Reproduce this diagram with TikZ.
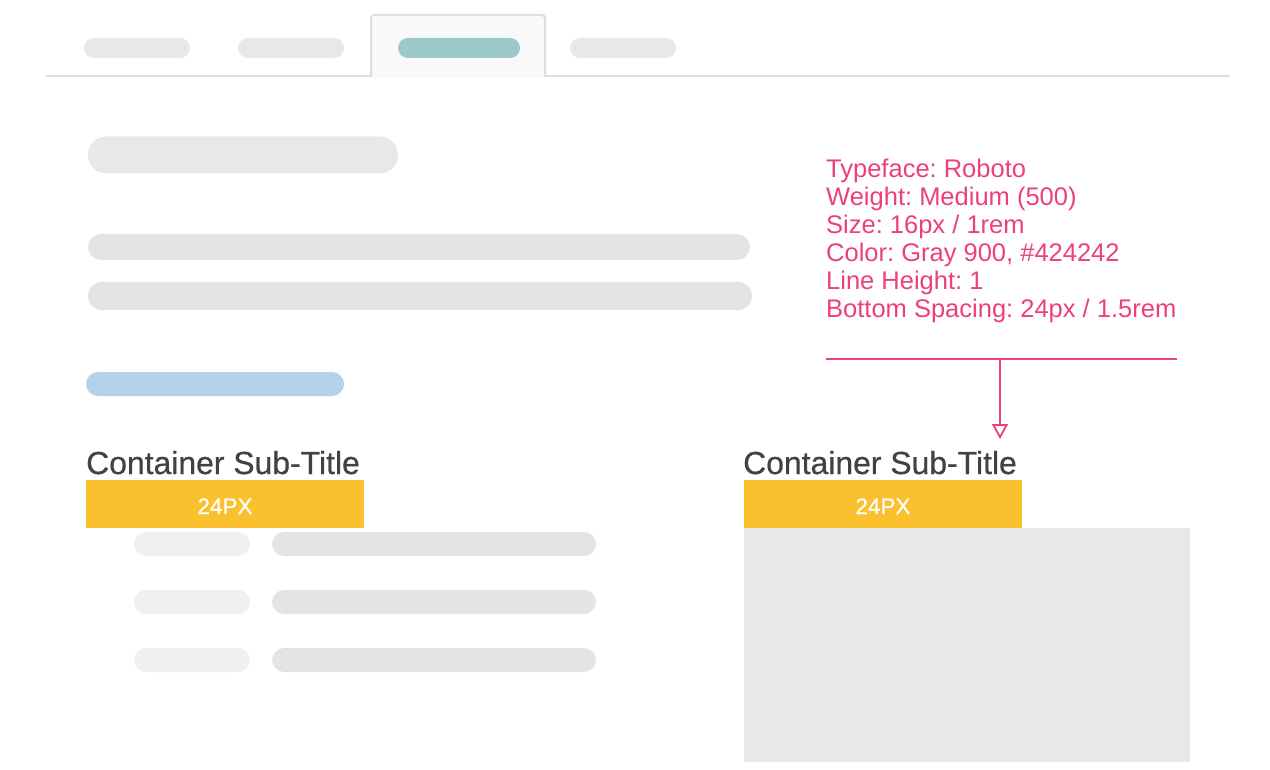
\documentclass[tikz,border=0pt]{standalone}
\usepackage{fontspec}
\setmainfont{Liberation Sans}
\newfontfamily\mediumfont[FakeBold=0.6]{Liberation Sans}
\frenchspacing
\usetikzlibrary{arrows.meta,positioning}
\definecolor{tabgray}{HTML}{E8E8E8}
\definecolor{linegray}{HTML}{DEDEDE}
\definecolor{barsgray}{HTML}{E4E4E4}
\definecolor{lightbar}{HTML}{F0F0F0}
\definecolor{tealtab}{HTML}{9DC9CA}
\definecolor{bluebar}{HTML}{B3D1EB}
\definecolor{amber}{HTML}{FBC02D}
\definecolor{gray900}{HTML}{424242}
\definecolor{annotpink}{HTML}{EC407A}
\tikzstyle{pill} = [rectangle, inner sep=0pt, draw=none]
\tikzstyle{subtitle} = [inner sep=0pt, text=gray900, font=\mediumfont\fontsize{31.9}{34}\selectfont]
\tikzstyle{spacing} = [fill=amber, inner sep=0pt, minimum width=278pt, minimum height=48pt, text height=20pt, text=white, font=\mediumfont\fontsize{22.5}{24}\selectfont]
\tikzstyle{annot} = [inner sep=0pt, align=left, text=annotpink, font=\fontsize{25.5}{28}\selectfont]

\begin{document}
\begin{tikzpicture}[x=1pt,y=-1pt]
\useasboundingbox (0,0) rectangle (1270,770);
% tabs
\draw[linegray, line width=2pt] (46,76) -- (1230,76);
\fill[fill=black!2.5, rounded corners=3pt] (371,78) |- (545,15) -- (545,78) -- cycle;
\draw[linegray, line width=2pt, rounded corners=3pt] (371,77) |- (545,15) -- (545,77);
\node[pill, fill=tabgray, minimum width=106pt, minimum height=20pt, rounded corners=10pt] (tabA) at (137,48) {};
\node[pill, fill=tabgray, minimum width=106pt, minimum height=20pt, rounded corners=10pt] (tabB) at (291,48) {};
\node[pill, fill=tealtab, minimum width=122pt, minimum height=20pt, rounded corners=10pt] (tabC) at (459,48) {};
\node[pill, fill=tabgray, minimum width=106pt, minimum height=20pt, rounded corners=10pt] (tabD) at (623,48) {};
% left column
\node[pill, fill=tabgray, minimum width=310pt, minimum height=37pt, rounded corners=18pt] (title) at (243,155) {};
\node[pill, fill=barsgray, minimum width=662pt, minimum height=26pt, rounded corners=13pt] (textA) at (419,247) {};
\node[pill, fill=barsgray, minimum width=664pt, minimum height=28pt, rounded corners=14pt] (textB) at (420,296) {};
\node[pill, fill=bluebar, minimum width=258pt, minimum height=24pt, rounded corners=12pt] (link) at (215,384) {};
\node[subtitle, anchor=base west] (subL) at (86,474) {Container Sub-Title};
\node[spacing] (gapL) at (225,504) {24PX};
\foreach \y [count=\i] in {544,602,660}{
  \node[pill, fill=lightbar, minimum width=116pt, minimum height=24pt, rounded corners=12pt] (key\i) at (192,\y) {};
  \node[pill, fill=barsgray, minimum width=324pt, minimum height=24pt, rounded corners=12pt] (val\i) at (434,\y) {};
}
% right column
\node[subtitle, anchor=base west] (subR) at (743,474) {Container Sub-Title};
\node[spacing] (gapR) at (883,504) {24PX};
\fill[tabgray] (744,528) rectangle (1190,762);
% annotation
\node[annot, anchor=north west] (spec) at (826,159) {Typeface: Roboto\\Weight: Medium (500)\\Size: 16px / 1rem\\Color: Gray 900, \#424242\\Line Height: 1\\Bottom Spacing: 24px / 1.5rem};
\coordinate (ruleL) at (826,359);
\coordinate (ruleR) at (1177,359);
\coordinate (ruleM) at (1000,359);
\coordinate (target) at (1000,439);
\draw[annotpink, line width=2pt] (ruleL) -- (ruleR);
\draw[annotpink, line width=1.8pt, -{Triangle[open, length=15pt, width=16pt]}] (ruleM) -- (target);
\end{tikzpicture}
\end{document}
